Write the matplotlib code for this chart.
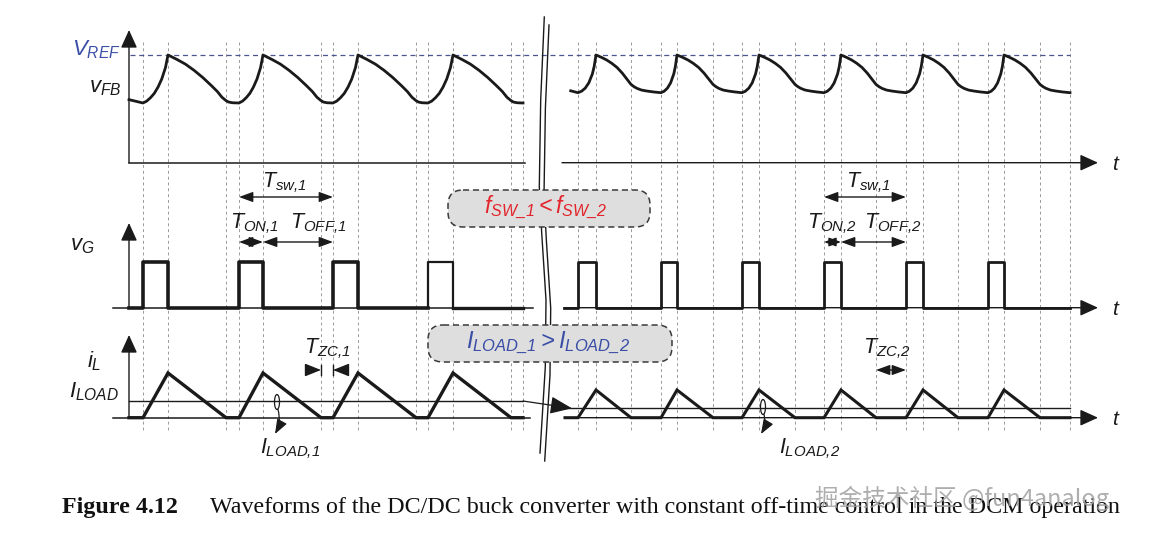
import matplotlib.pyplot as plt
from matplotlib.patches import FancyBboxPatch, Ellipse

plt.rcParams['mathtext.fontset'] = 'custom'
plt.rcParams['mathtext.it'] = 'Liberation Sans:italic'
plt.rcParams['mathtext.rm'] = 'Liberation Sans:italic'
plt.rcParams['mathtext.sf'] = 'Liberation Sans:italic'

# switching instants (time axis, pixels)
t_on_1 = [143, 239, 333, 428]
t_off_1 = [168, 263, 358, 453]
t_zc_1 = [226, 321, 416, 511]
t_stop_1 = 523
t_on_2 = [578, 661, 742, 824, 906, 988]
t_off_2 = [596, 677, 759, 841, 923, 1004]
t_zc_2 = [631, 713, 795, 876, 958, 1040]
t_stop_2 = 1070

# v_FB shape per phase: (fraction of phase, fraction of ripple)
vfb1_rise = [(0, 0), (0.15, 0.04), (0.3, 0.11), (0.45, 0.2), (0.6, 0.33), (0.75, 0.5), (0.9, 0.74), (1, 1)]
vfb1_fall = [(0, 1), (0.15, 0.91), (0.3, 0.81), (0.45, 0.68), (0.6, 0.53), (0.75, 0.36), (0.85, 0.24), (0.93, 0.12), (1, 0.05)]
vfb1_idle = [(0, 0.05), (0.2, 0.02), (0.5, 0.005), (1, 0)]
vfb2_rise = [(0, 0), (0.2, 0.04), (0.4, 0.12), (0.6, 0.26), (0.8, 0.5), (0.9, 0.7), (1, 1)]
vfb2_fall = [(0, 1), (0.15, 0.94), (0.3, 0.87), (0.45, 0.78), (0.6, 0.67), (0.75, 0.52), (0.9, 0.34), (1, 0.22)]
vfb2_idle = [(0, 0.22), (0.1, 0.16), (0.2, 0.115), (0.35, 0.07), (0.53, 0.044), (0.75, 0.02), (1, 0)]

# levels (pixel rows of the drawing)
vref = 55
vfb_min_1, vfb_min_2 = 103, 92.7
vg_hi, vg_lo = 261.7, 307.7
il_zero = 417.7
il_peak_1, il_peak_2 = 373, 390
iload_1, iload_2 = 401, 408.3

# break mark
brk_y = [17, 100, 187, 233, 300, 367, 453]
brk_x = [544.3, 540.7, 539.3, 541.7, 546, 545.3, 540]

fig = plt.figure(figsize=(11.52, 5.35), dpi=100)
ax = fig.add_axes([0, 0, 1, 1])
ax.set_xlim(0, 1152)
ax.set_ylim(535, 0)
ax.axis('off')

K = '#1a1a1a'
BLUE = '#3b4ea6'
RED = '#e3242b'


def phase(t0, t1, shape, lo, hi):
    return [t0 + u * (t1 - t0) for u, _ in shape], [lo + v * (hi - lo) for _, v in shape]


def vfb_trace(x0, lvl0, ons, offs, zcs, stop, shapes, lo, hi):
    xs, ys = [x0], [lo + lvl0 * (hi - lo)]
    for i in range(len(ons)):
        nxt = ons[i + 1] if i + 1 < len(ons) else stop
        for a, b, sh in [(ons[i], offs[i], shapes[0]), (offs[i], zcs[i], shapes[1]), (zcs[i], nxt, shapes[2])]:
            px, py = phase(a, b, sh, lo, hi)
            xs += px
            ys += py
    return xs, ys


def arrow(x0, y0, x1, y1, style='-|>', ms=20, lw=1.0, **kw):
    ax.annotate('', xy=(x1, y1), xytext=(x0, y0),
                arrowprops=dict(arrowstyle=style, mutation_scale=ms, lw=lw, color=K,
                                shrinkA=0, shrinkB=0, **kw))


axis_head = '-|>,head_length=0.55,head_width=0.25'
dim_head = '<|-|>,head_length=0.6,head_width=0.22'
one_head = '-|>,head_length=0.7,head_width=0.28'

# dashed event lines
for t in sorted(t_on_1 + t_off_1 + t_zc_1 + [t_stop_1]):
    ax.plot([t, t], [42, 432], ls=(0, (3, 3)), color='#9a9a9a', lw=0.7)
for t in sorted(t_on_2 + t_off_2 + t_zc_2 + [t_stop_2]):
    ax.plot([t, t], [42, 432], ls=(0, (3, 3)), color='#9a9a9a', lw=0.7)

# V_REF
ax.plot([130, t_stop_2], [vref, vref], ls=(0, (4, 3)), color='#4a5590', lw=0.9)

# axes
for yb, ytop in [(162.7, 30), (307.7, 223), (417.7, 335)]:
    arrow(129, yb, 129, ytop, axis_head)
ax.plot([129, 525], [162.7, 162.7], color=K, lw=1.1)
ax.plot([113, 533], [307.7, 307.7], color=K, lw=1.1)
ax.plot([113, 530], [417.7, 417.7], color=K, lw=1.1)
for x0, yb in [(562, 162.7), (564, 307.7), (565, 417.7)]:
    arrow(x0, yb, 1098, yb, axis_head)
    ax.text(1116, yb + 1, '$t$', fontsize=15, ha='center', va='center', color=K)

# v_FB
xs, ys = vfb_trace(129, 0.07, t_on_1, t_off_1, t_zc_1, t_stop_1, (vfb1_rise, vfb1_fall, vfb1_idle), vfb_min_1, vref)
ax.plot(xs, ys, color=K, lw=2.0, solid_joinstyle='round')
xs, ys = vfb_trace(570.7, 0.05, t_on_2, t_off_2, t_zc_2, t_stop_2, (vfb2_rise, vfb2_fall, vfb2_idle), vfb_min_2, vref)
ax.plot(xs, ys, color=K, lw=2.0, solid_joinstyle='round')

# v_G
gx, gy = [129], [vg_lo]
for a, b in zip(t_on_1[:3], t_off_1[:3]):
    gx += [a, a, b, b]
    gy += [vg_lo, vg_hi, vg_hi, vg_lo]
gx.append(t_on_1[3])
gy.append(vg_lo)
ax.plot(gx, gy, color=K, lw=2.6)
ax.plot([t_on_1[3], t_on_1[3], t_off_1[3], t_off_1[3]], [vg_lo, vg_hi, vg_hi, vg_lo], color=K, lw=1.6)
ax.plot([t_off_1[3], t_stop_1], [vg_lo, vg_lo], color=K, lw=2.4)
gx, gy = [564], [vg_lo]
for a, b in zip(t_on_2, t_off_2):
    gx += [a, a, b, b]
    gy += [vg_lo, vg_hi, vg_hi, vg_lo]
gx.append(t_stop_2)
gy.append(vg_lo)
ax.plot(gx, gy, color=K, lw=2.0)

# i_L
lx, ly = [129], [il_zero]
for a, b, c in zip(t_on_1, t_off_1, t_zc_1):
    lx += [a, b, c]
    ly += [il_zero, il_peak_1, il_zero]
lx.append(t_stop_1)
ly.append(il_zero)
ax.plot(lx, ly, color=K, lw=2.4, solid_joinstyle='miter')
lx, ly = [565], [il_zero]
for a, b, c in zip(t_on_2, t_off_2, t_zc_2):
    lx += [a, b, c]
    ly += [il_zero, il_peak_2, il_zero]
lx.append(t_stop_2)
ly.append(il_zero)
ax.plot(lx, ly, color=K, lw=2.2, solid_joinstyle='miter')
ax.plot([129, t_stop_1], [iload_1, iload_1], color=K, lw=1.0)
ax.plot([565, t_stop_2], [iload_2, iload_2], color=K, lw=1.0)
arrow(t_stop_1, iload_1, 572, iload_2, '-|>,head_length=0.75,head_width=0.3', ms=18, lw=0.9)

# break mark
ax.plot(brk_x, brk_y, color=K, lw=1.0)
ax.plot([x + 4.7 for x in brk_x], [y + 8 for y in brk_y], color=K, lw=1.0)

# boxes
for (bx, by, bw, bh) in [(448, 190, 202, 37), (428, 325, 244, 37)]:
    ax.add_patch(FancyBboxPatch((bx, by), bw, bh, boxstyle='round,pad=0,rounding_size=15',
                                fc='#dedede', ec='#3a3a3a', lw=1.1, ls=(0, (4, 2.5)), zorder=5))
ax.text(546, 208, r'$f_{SW\_1} < f_{SW\_2}$', fontsize=16.5, color=RED, ha='center', va='center', zorder=6)
ax.text(548, 343, r'$I_{LOAD\_1} > I_{LOAD\_2}$', fontsize=17, color=BLUE, ha='center', va='center', zorder=6)

# signal labels
ax.text(121, 55, r'$V_{REF}$', fontsize=16, color=BLUE, ha='right', va='baseline')
ax.text(121, 92, r'$v_{FB}$', fontsize=16, color=K, ha='right', va='baseline')
ax.text(95, 250, r'$v_{G}$', fontsize=16, color=K, ha='right', va='baseline')
ax.text(101, 367, r'$i_{L}$', fontsize=16, color=K, ha='right', va='baseline')
ax.text(119, 397, r'$I_{LOAD}$', fontsize=16, color=K, ha='right', va='baseline')

# timing annotations, first operating point
arrow(t_on_1[1], 197, t_on_1[2], 197, dim_head, ms=14)
ax.text(284, 187, r'$T_{sw{,}1}$', fontsize=15.5, ha='center', va='baseline', color=K)
arrow(t_on_1[1], 242, t_off_1[1], 242, dim_head, ms=14)
arrow(t_off_1[1], 242, t_on_1[2], 242, dim_head, ms=14)
ax.text(254, 228, r'$T_{ON{,}1}$', fontsize=15.5, ha='center', va='baseline', color=K)
ax.text(318, 228, r'$T_{OFF{,}1}$', fontsize=15.5, ha='center', va='baseline', color=K)
arrow(306, 370, t_zc_1[1], 370, one_head, ms=14)
arrow(348, 370, t_on_1[2], 370, one_head, ms=14)
ax.plot([t_zc_1[1], t_zc_1[1]], [365, 375], color=K, lw=1.0)
ax.plot([t_on_1[2], t_on_1[2]], [365, 375], color=K, lw=1.0)
ax.text(327, 353, r'$T_{ZC{,}1}$', fontsize=15.5, ha='center', va='baseline', color=K)

# timing annotations, second operating point
arrow(t_on_2[3], 197, t_on_2[4], 197, dim_head, ms=14)
ax.text(868, 187, r'$T_{sw{,}1}$', fontsize=15.5, ha='center', va='baseline', color=K)
arrow(t_on_2[3], 242, t_off_2[3], 242, dim_head, ms=12)
arrow(t_off_2[3], 242, t_on_2[4], 242, dim_head, ms=14)
ax.text(832, 228, r'$T_{ON{,}2}$', fontsize=15.5, ha='center', va='baseline', color=K)
ax.text(893, 228, r'$T_{OFF{,}2}$', fontsize=15.5, ha='center', va='baseline', color=K)
arrow(t_zc_2[3], 370, t_on_2[4], 370, dim_head, ms=14)
ax.text(887, 353, r'$T_{ZC{,}2}$', fontsize=15.5, ha='center', va='baseline', color=K)

# I_LOAD markers
for ex, ey, lx0, lab in [(277, 402, 290, r'$I_{LOAD{,}1}$'), (763, 407, 810, r'$I_{LOAD{,}2}$')]:
    ax.add_patch(Ellipse((ex, ey), 5, 15, fill=False, ec=K, lw=0.9))
    arrow(ex + 1, ey + 7.5, ex - 2, 434, '-|>,head_length=0.8,head_width=0.3',
          ms=11, lw=0.9, connectionstyle='arc3,rad=-0.2')
    ax.text(lx0, 453, lab, fontsize=15.5, ha='center', va='baseline', color=K)

# caption
ax.text(62, 507, 'Figure 4.12', fontsize=17.3, fontweight='bold', family='Liberation Serif',
        ha='left', va='center', color='#111111')
ax.text(210, 507, 'Waveforms of the DC/DC buck converter with constant off-time control in the DCM operation',
        fontsize=17.3, family='Liberation Serif', ha='left', va='center', color='#111111')
ax.text(815, 498, '掘金技术社区 @fun4analog', fontsize=17, family=['Noto Sans CJK SC', 'DejaVu Sans'],
        ha='left', va='center', color='#a0a0a0', alpha=0.85)

fig.savefig('out.png', dpi=100)
